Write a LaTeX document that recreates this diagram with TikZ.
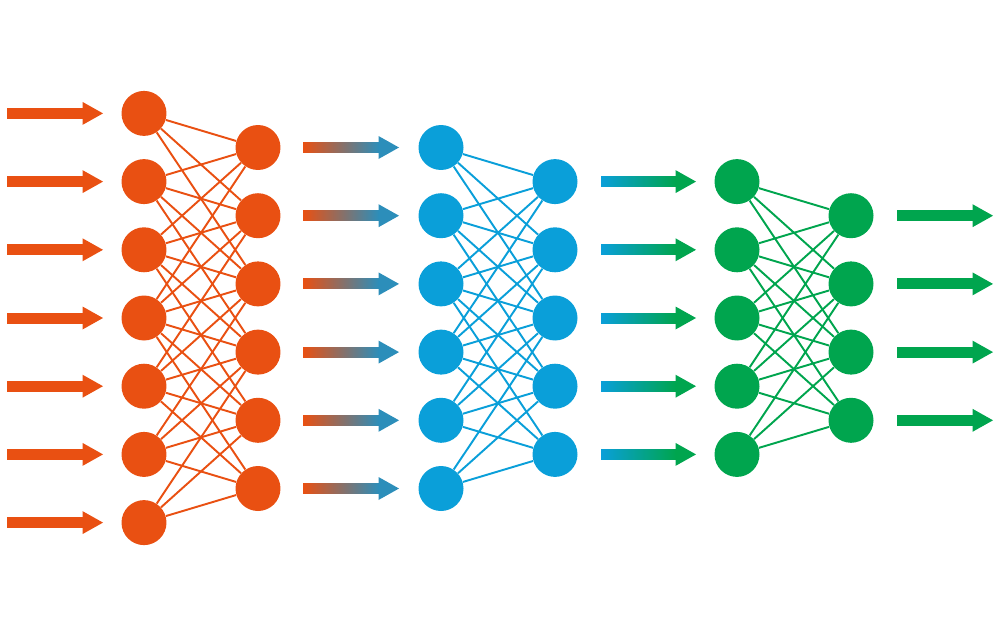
\documentclass[tikz,border=0pt]{standalone}
\begin{document}
\begin{tikzpicture}[x=0.02cm,y=-0.02cm]
\definecolor{cor}{RGB}{233,80,18}
\definecolor{cbl}{RGB}{10,159,217}
\definecolor{cgr}{RGB}{0,165,78}
\definecolor{cst}{RGB}{44,142,186}
\useasboundingbox (0,0) rectangle (1000,639);
\tikzset{
  neuron/.style={circle,inner sep=0pt,minimum size=0.9cm,fill=#1,draw=none},
  link/.style={line width=1.1pt,draw=#1},
}
\newcommand\myarrow[5]{%
  \pgfmathsetmacro\ay{#3}%
  \pgfmathsetmacro\ayt{\ay-5}\pgfmathsetmacro\ayb{\ay+5}%
  \pgfmathsetmacro\aht{\ay-11.5}\pgfmathsetmacro\ahb{\ay+11.5}%
  \pgfmathsetmacro\axs{#2-20}\pgfmathsetmacro\axh{#2-20.5}%
  \shade[left color=#4,right color=#5] (#1,\ayt) rectangle (\axs,\ayb);
  \fill[#5] (\axh,\aht) -- (#2,\ay) -- (\axh,\ahb) -- cycle;
}
% layers
\foreach \i in {1,...,7} \node[neuron=cor] (O1-\i) at (144,{318+(\i-4)*68.2}) {};
\foreach \i in {1,...,6} \node[neuron=cor] (O2-\i) at (258,{318+(\i-3.5)*68.2}) {};
\foreach \i in {1,...,6} \node[neuron=cbl] (B1-\i) at (441,{318+(\i-3.5)*68.2}) {};
\foreach \i in {1,...,5} \node[neuron=cbl] (B2-\i) at (555,{318+(\i-3)*68.2}) {};
\foreach \i in {1,...,5} \node[neuron=cgr] (G1-\i) at (737,{318+(\i-3)*68.2}) {};
\foreach \i in {1,...,4} \node[neuron=cgr] (G2-\i) at (851,{318+(\i-2.5)*68.2}) {};
% links
\foreach \i in {1,...,7}{\foreach \j in {1,...,6}{%
  \pgfmathtruncatemacro\d{\j-\i}%
  \ifnum\d>-4 \ifnum\d<3 \draw[link=cor] (O1-\i) -- (O2-\j);\fi\fi}}
\foreach \i in {1,...,6}{\foreach \j in {1,...,5}{%
  \pgfmathtruncatemacro\d{\j-\i}%
  \ifnum\d>-4 \ifnum\d<3 \draw[link=cbl] (B1-\i) -- (B2-\j);\fi\fi}}
\foreach \i in {1,...,5}{\foreach \j in {1,...,4}{%
  \pgfmathtruncatemacro\d{\j-\i}%
  \ifnum\d>-4 \ifnum\d<3 \draw[link=cgr] (G1-\i) -- (G2-\j);\fi\fi}}
% arrows
\foreach \i in {1,...,7} {\myarrow{7}{103}{318+(\i-4)*68.2}{cor}{cor}}
\foreach \i in {1,...,6} {\myarrow{303}{399}{318+(\i-3.5)*68.2}{cor}{cst}}
\foreach \i in {1,...,5} {\myarrow{601}{696}{318+(\i-3)*68.2}{cbl}{cgr}}
\foreach \i in {1,...,4} {\myarrow{897}{993}{318+(\i-2.5)*68.2}{cgr}{cgr}}
\end{tikzpicture}
\end{document}
